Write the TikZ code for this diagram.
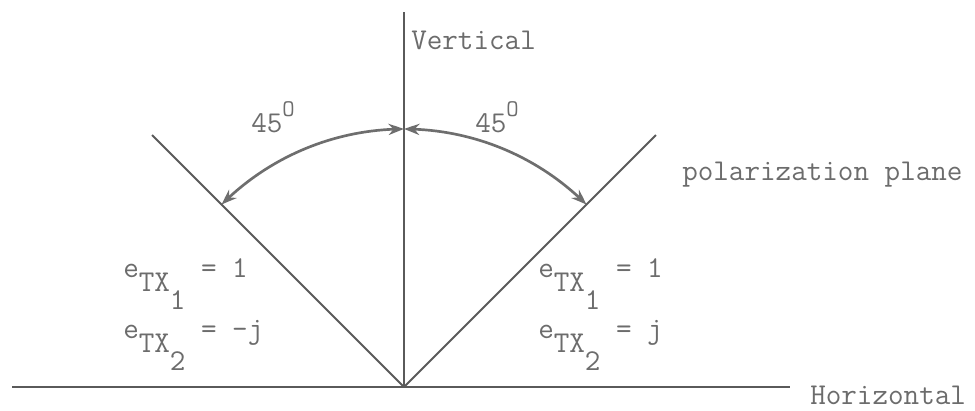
\documentclass[tikz,border=0pt]{standalone}
\usepackage{fontspec}
\usetikzlibrary{arrows.meta,bending}
\definecolor{linec}{HTML}{5A5A5A}
\definecolor{arcc}{HTML}{6E6E6E}
\definecolor{textc}{HTML}{6C6C6C}
\newcommand{\mysub}[2]{e\raisebox{-10pt}{TX\raisebox{-12.8pt}{#1}}#2}
\newcommand{\mydeg}{\raisebox{11pt}{\fontsize{17}{17}\selectfont O}}
\begin{document}
\begin{tikzpicture}[x=0.025cm,y=-0.025cm,
  axisline/.style={draw=linec, line width=1.4pt},
  baseline/.style={draw=linec, line width=2.1pt},
  anglearc/.style={draw=arcc, line width=1.9pt,
     {Stealth[length=11pt,width=8pt,bend]}-{Stealth[length=11pt,width=8pt,bend]}},
  lbl/.style={text=textc, inner sep=0pt, anchor=base west,
     font=\ttfamily\fontsize{21.5}{24}\selectfont}]
\useasboundingbox (0,0) rectangle (975,410);
\coordinate (O) at (404,387);
\coordinate (vtop) at (404,12);
\coordinate (hleft) at (12,387);
\coordinate (hright) at (790,387);
\coordinate (dleft) at (152,135);
\coordinate (dright) at (656,135);
% axes and planes
\draw[baseline] (hleft) -- (hright);
\draw[axisline] (O) -- (vtop);
\draw[axisline] (O) -- (dleft);
\draw[axisline] (O) -- (dright);
% angle arcs
\draw[anglearc] ([shift={(225:258)}]O) arc[start angle=225, end angle=270, radius=258];
\draw[anglearc] ([shift={(315:258)}]O) arc[start angle=315, end angle=270, radius=258];
% labels
\node[lbl] (vert) at (411,49) {Vertical};
\node[lbl] (horiz) at (810,404) {Horizontal};
\node[lbl] (pol) at (682,180) {polarization plane};
\node[lbl] (angl) at (251,132) {45\mydeg};
\node[lbl] (angr) at (475,132) {45\mydeg};
\node[lbl] (l1) at (123,277) {\mysub{1}{ = 1}};
\node[lbl] (l2) at (123,338) {\mysub{2}{ = -j}};
\node[lbl] (r1) at (538,277) {\mysub{1}{ = 1}};
\node[lbl] (r2) at (538,338) {\mysub{2}{ = j}};
\end{tikzpicture}
\end{document}
